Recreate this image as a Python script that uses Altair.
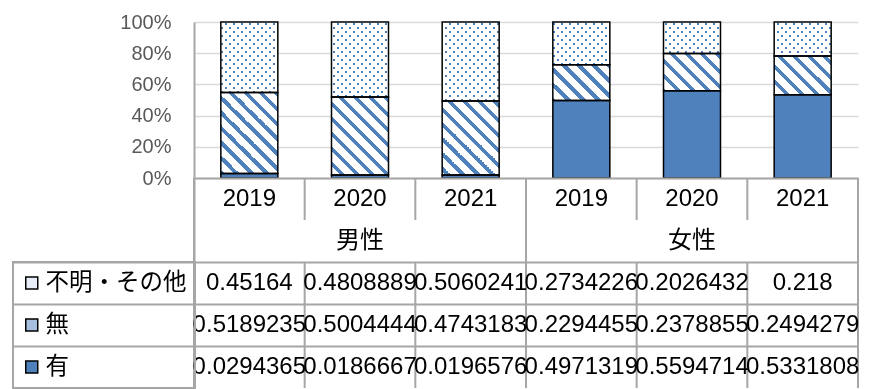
import altair as alt

# ---------------- data ----------------
years = ["2019", "2020", "2021", "2019", "2020", "2021"]
genders = ["男性", "男性", "男性", "女性", "女性", "女性"]
gender_labels = ["男性", "女性"]
series_names = ["不明・その他", "無", "有"]
fumei = [0.45164, 0.4808889, 0.5060241, 0.2734226, 0.2026432, 0.218]
mu = [0.5189235, 0.5004444, 0.4743183, 0.2294455, 0.2378855, 0.2494279]
yu = [0.0294365, 0.0186667, 0.0196576, 0.4971319, 0.5594714, 0.5331808]

# ---------------- style ----------------
PLOT_W, PLOT_H = 664, 156
PLOT_LEFT, PLOT_TOP = 193, 22   # used only to align the hatch patterns to the pixel grid
ROW_H = 42
N = len(years)
PAD_IN = 0.485
STEP = PLOT_W / N
BAR_W = STEP * (1 - PAD_IN)
LEFT_COL = 181

BLUE = "#4f81bd"
WHITE = "#ffffff"
LINE = "#a6a6a6"
GRID = "#d9d9d9"
LATIN = "Liberation Sans, Noto Sans CJK JP"
CJK = "Noto Sans CJK JP"

keys = [f"{g} {y}" for g, y in zip(genders, years)]
series_data = {"不明・その他": fumei, "無": mu, "有": yu}


def stripe_stops(length, period, on, phase=0.0):
    phase = phase % period

    def color_at(u):
        return BLUE if ((u - phase) % period) < on else WHITE

    stops = [{"offset": 0.0, "color": color_at(0.0)}]
    k = -2
    while k * period + phase <= length + period:
        a = k * period + phase
        b = a + on
        for pos, before, after in ((a, WHITE, BLUE), (b, BLUE, WHITE)):
            if 0 < pos < length:
                f = pos / length
                stops.append({"offset": f, "color": before})
                stops.append({"offset": f, "color": after})
        k += 1
    stops.append({"offset": 1.0, "color": color_at(length - 1e-6)})
    return stops


def diag_gradient(w, h, period, on, direction, phase=0.0):
    t = (w + h) / (w * w + h * h)
    if direction == "down":
        x1, y1, x2, y2 = 0, 1, w * t, 1 - h * t
    else:
        x1, y1, x2, y2 = 0, 0, w * t, h * t
    return {"gradient": "linear", "x1": x1, "y1": y1, "x2": x2, "y2": y2,
            "stops": stripe_stops(w + h, period, on, phase)}


records = []
for i, key in enumerate(keys):
    total = fumei[i] + mu[i] + yu[i]
    base = 0.0
    x0 = PLOT_LEFT + i * STEP + STEP * PAD_IN / 2
    for name in ["有", "無", "不明・その他"]:
        frac = series_data[name][i] / total
        h = max(frac * PLOT_H, 1.0)
        top = base + frac
        y_top = PLOT_TOP + (1 - top) * PLOT_H
        rec = {"key": key, "series": name, "y0": base, "y1": top}
        if name == "無":
            rec["g1"] = diag_gradient(BAR_W, h, 15, 5.5, "down",
                                      -0.5 - (x0 - y_top - h))
        elif name == "不明・その他":
            rec["g1"] = diag_gradient(BAR_W, h, 8, 3, "down",
                                      -0.5 - (x0 - y_top - h))
            rec["g2"] = diag_gradient(BAR_W, h, 8, 3, "up",
                                      -0.5 - (x0 + y_top))
        records.append(rec)
        base = top

src = alt.Data(values=records)

x_enc = alt.X("key:N", sort=keys,
              scale=alt.Scale(domain=keys, paddingInner=PAD_IN, paddingOuter=PAD_IN / 2),
              axis=None)
y_enc = alt.Y("y0:Q", scale=alt.Scale(domain=[0, 1], nice=False),
              axis=alt.Axis(values=[0, 0.2, 0.4, 0.6, 0.8, 1.0], format=".0%", title=None,
                            grid=True, gridColor=GRID, gridWidth=1.5,
                            domain=True, domainColor=LINE, domainWidth=2,
                            ticks=False, tickSize=0, labelPadding=23,
                            labelFont="Liberation Sans", labelFontSize=20,
                            labelColor="#595959"))

base_bars = alt.Chart(src).mark_bar().encode(
    x=x_enc, y=y_enc, y2="y1:Q",
    fill=alt.Fill("series:N",
                  scale=alt.Scale(domain=series_names,
                                  range=["#e8eef7", "#a7bfde", BLUE]),
                  legend=alt.Legend(title=None, orient="none",
                                    legendX=-LEFT_COL, legendY=PLOT_H + 2 * ROW_H)),
)
stripes = alt.Chart(src).transform_filter(alt.datum.series == "無").mark_bar().encode(
    x=x_enc, y=y_enc, y2="y1:Q", fill=alt.Fill("g1:N", scale=None))
dots_a = alt.Chart(src).transform_filter(alt.datum.series == "不明・その他").mark_bar().encode(
    x=x_enc, y=y_enc, y2="y1:Q", fill=alt.Fill("g1:N", scale=None))
dots_b = alt.Chart(src).transform_filter(alt.datum.series == "不明・その他").mark_bar(
    blend="lighten").encode(
    x=x_enc, y=y_enc, y2="y1:Q", fill=alt.Fill("g2:N", scale=None))
outline = alt.Chart(src).mark_bar(filled=False, stroke="black", strokeWidth=1.5).encode(
    x=x_enc, y=y_enc, y2="y1:Q")

bars = alt.layer(base_bars, stripes, dots_a, dots_b, outline).properties(
    width=PLOT_W, height=PLOT_H)

# ---------------- table ----------------
row_keys = ["year", "gender"] + series_names
cells = []
for i, k in enumerate(keys):
    cells.append({"key": k, "row": "year", "label": years[i]})
    for name in series_names:
        cells.append({"key": k, "row": name, "label": str(series_data[name][i])})
for gi, g in enumerate(gender_labels):
    cells.append({"key": keys[gi * 3 + 1], "row": "gender", "label": g})

vsegs = []
for i, k in enumerate(keys):
    if i % 3 == 0:
        vsegs.append({"key": k, "top": "year", "bottom": "有"})
    else:
        vsegs.append({"key": k, "top": "year", "bottom": "year"})
        vsegs.append({"key": k, "top": "不明・その他", "bottom": "有"})
right_seg = [{"key": keys[-1], "top": "year", "bottom": "有"}]

tx_scale = alt.Scale(domain=keys, paddingInner=0, paddingOuter=0)
ty_scale = alt.Scale(domain=row_keys, paddingInner=0, paddingOuter=0)
tx_axis = alt.Axis(orient="top", labels=False, ticks=False, grid=False, domain=True,
                   domainColor=LINE, domainWidth=2, title=None)
ty_axis = alt.Axis(orient="left", values=series_names, bandPosition=0, labels=False,
                   ticks=True, tickSize=LEFT_COL, tickColor=LINE, tickWidth=2,
                   grid=True, gridColor=LINE, gridWidth=2,
                   domain=True, domainColor=LINE, domainWidth=2, title=None)

text_layer = alt.Chart(alt.Data(values=cells)).mark_text(
    font=LATIN, fontSize=24, color="black", baseline="middle", align="center"
).encode(
    x=alt.X("key:N", scale=tx_scale, axis=tx_axis),
    y=alt.Y("row:N", scale=ty_scale, axis=ty_axis),
    text="label:N",
)
left_rules = alt.Chart(alt.Data(values=vsegs)).mark_rule(color=LINE, strokeWidth=2).encode(
    x=alt.X("key:N", scale=tx_scale, axis=tx_axis, bandPosition=0),
    y=alt.Y("top:N", scale=ty_scale, axis=ty_axis, bandPosition=0),
    y2=alt.Y2("bottom:N", bandPosition=1),
)
right_rules = alt.Chart(alt.Data(values=right_seg)).mark_rule(color=LINE, strokeWidth=2).encode(
    x=alt.X("key:N", scale=tx_scale, axis=tx_axis, bandPosition=1),
    y=alt.Y("top:N", scale=ty_scale, axis=ty_axis, bandPosition=0),
    y2=alt.Y2("bottom:N", bandPosition=1),
)

table = alt.layer(left_rules, right_rules, text_layer).properties(
    width=PLOT_W, height=len(row_keys) * ROW_H)

chart = alt.vconcat(bars, table, spacing=0, bounds="flush").resolve_scale(
    x="independent", y="independent"
).properties(
    padding={"left": 12, "top": 12, "right": 0, "bottom": 0}
).configure_view(stroke=None).configure_legend(
    direction="vertical", symbolType="square", symbolSize=144,
    symbolStrokeColor="black", symbolStrokeWidth=1.5, symbolOffset=-1,
    labelFont=CJK, labelFontSize=23.5, labelColor="black", labelOffset=2,
    labelLimit=300, rowPadding=16, clipHeight=26, padding=8,
    strokeColor=LINE, strokeWidth=2,
)

chart.save("out.html", embed_options={"renderer": "svg", "actions": False})
